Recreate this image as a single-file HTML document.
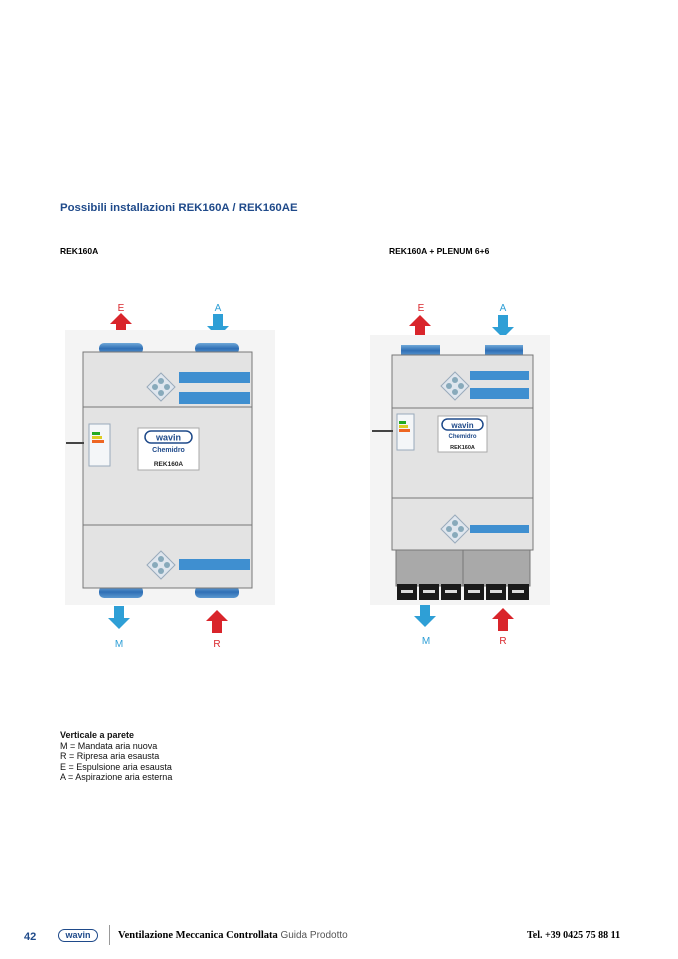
<!DOCTYPE html>
<html><head><meta charset="utf-8"><style>
body{margin:0;background:#fff;width:678px;height:959px;position:relative;overflow:hidden;font-family:"Liberation Sans",sans-serif}
.t{position:absolute;white-space:nowrap}
</style></head><body>
<div class="t" style="left:60px;top:202px;font-size:11.4px;font-weight:bold;color:#1f4a8a">Possibili installazioni REK160A / REK160AE</div>
<div class="t" style="left:60px;top:246px;font-size:8.5px;font-weight:bold">REK160A</div>
<div class="t" style="left:389px;top:246px;font-size:8.5px;font-weight:bold">REK160A + PLENUM 6+6</div>
<div class="t" style="left:60px;top:730px;font-size:9px;line-height:10.5px;color:#111"><b>Verticale a parete</b><br>M = Mandata aria nuova<br>R = Ripresa aria esausta<br>E = Espulsione aria esausta<br>A = Aspirazione aria esterna</div>
<div class="t" style="left:24px;top:931px;font-size:11px;font-weight:bold;color:#1f4a8a">42</div>
<div class="t" style="left:58px;top:929px;width:38px;height:11px;border:1.5px solid #1f4a8a;border-radius:7px;font-size:9px;font-weight:bold;color:#1f4a8a;text-align:center;line-height:11px">wavin</div>
<div style="position:absolute;left:109px;top:925px;width:1px;height:20px;background:#999"></div>
<div class="t" style="left:118px;top:930px;font-size:10.5px;font-family:'Liberation Serif',serif;font-weight:bold">Ventilazione Meccanica Controllata <span style="font-weight:normal;color:#555;font-family:'Liberation Sans',sans-serif;font-size:10px">Guida Prodotto</span></div>
<div class="t" style="left:527px;top:930px;font-size:10px;font-family:'Liberation Serif',serif;font-weight:bold">Tel. +39 0425 75 88 11</div>
<svg width="678" height="959" style="position:absolute;left:0;top:0">
<defs>
<linearGradient id="du" x1="0" y1="0" x2="0" y2="1"><stop offset="0" stop-color="#6fa8d8"/><stop offset=".5" stop-color="#2f6fb5"/><stop offset="1" stop-color="#5b98d0"/></linearGradient>
<g id="up"><path d="M-11 0 L0 -11 L11 0 L5 0 L5 12 L-5 12 L-5 0Z" fill="#d9252b"/></g>
<g id="dn"><path d="M-11 0 L0 11 L11 0 L5 0 L5 -12 L-5 -12 L-5 0Z" fill="#2e9fd6"/></g>
<g id="dia"><path d="M0 -14 L14 0 L0 14 L-14 0Z" fill="#dfe6ee" stroke="#9ab" stroke-width="1"/><circle cx="0" cy="-6" r="3" fill="#8ab"/><circle cx="0" cy="6" r="3" fill="#8ab"/><circle cx="-6" cy="0" r="3" fill="#8ab"/><circle cx="6" cy="0" r="3" fill="#8ab"/></g>
</defs>
<g font-family="Liberation Sans" font-size="10">
<text x="121" y="311" fill="#d9252b" text-anchor="middle">E</text>
<text x="218" y="311" fill="#2e9fd6" text-anchor="middle">A</text>
<text x="119" y="647" fill="#2e9fd6" text-anchor="middle">M</text>
<text x="217" y="647" fill="#d9252b" text-anchor="middle">R</text>
<text x="421" y="311" fill="#d9252b" text-anchor="middle">E</text>
<text x="503" y="311" fill="#2e9fd6" text-anchor="middle">A</text>
<text x="426" y="644" fill="#2e9fd6" text-anchor="middle">M</text>
<text x="503" y="644" fill="#d9252b" text-anchor="middle">R</text>
</g>
<use href="#up" x="121" y="324"/><use href="#dn" x="218" y="326"/>
<use href="#dn" x="119" y="618"/><use href="#up" x="217" y="621"/>
<use href="#up" x="420" y="326"/><use href="#dn" x="503" y="327"/>
<use href="#dn" x="425" y="616"/><use href="#up" x="503" y="619"/>
<rect x="65" y="330" width="210" height="275" fill="#f4f4f4"/>
<rect x="99" y="343" width="44" height="11" rx="5" fill="url(#du)"/>
<rect x="195" y="343" width="44" height="11" rx="5" fill="url(#du)"/>
<rect x="99" y="586" width="44" height="12" rx="5" fill="url(#du)"/>
<rect x="195" y="586" width="44" height="12" rx="5" fill="url(#du)"/>
<rect x="83" y="352" width="169" height="236" fill="#e3e3e3" stroke="#777" stroke-width="1"/>
<line x1="83" y1="407" x2="252" y2="407" stroke="#777"/>
<line x1="83" y1="525" x2="252" y2="525" stroke="#777"/>
<rect x="179" y="372" width="71" height="11" fill="#3f8fd0"/>
<rect x="179" y="392" width="71" height="12" fill="#3f8fd0"/>
<rect x="179" y="559" width="71" height="11" fill="#3f8fd0"/>
<use href="#dia" x="161" y="387"/><use href="#dia" x="161" y="565"/>
<rect x="89" y="424" width="21" height="42" fill="#f4f6f8" stroke="#9ab"/>
<rect x="92" y="432" width="8" height="3" fill="#2a2"/><rect x="92" y="436" width="10" height="3" fill="#dc2"/><rect x="92" y="440" width="12" height="3" fill="#e62"/>
<line x1="66" y1="443" x2="84" y2="443" stroke="#444" stroke-width="2"/>
<rect x="138" y="428" width="61" height="42" fill="#fff" stroke="#aaa"/>
<rect x="145" y="431" width="47" height="12" rx="6" fill="none" stroke="#1f4a8a" stroke-width="1.5"/>
<text x="168.5" y="440.5" font-family="Liberation Sans" font-weight="bold" font-size="9" fill="#1f4a8a" text-anchor="middle">wavin</text>
<text x="168.5" y="452" font-family="Liberation Sans" font-weight="bold" font-size="7" fill="#1f4a8a" text-anchor="middle">Chemidro</text>
<text x="168.5" y="466" font-family="Liberation Sans" font-weight="bold" font-size="6.5" fill="#222" text-anchor="middle">REK160A</text>
<rect x="370" y="335" width="180" height="270" fill="#f4f4f4"/>
<rect x="401" y="345" width="39" height="11" fill="url(#du)"/>
<rect x="485" y="345" width="38" height="11" fill="url(#du)"/>
<rect x="392" y="355" width="141" height="195" fill="#e3e3e3" stroke="#777"/>
<line x1="392" y1="408" x2="533" y2="408" stroke="#777"/>
<line x1="392" y1="498" x2="533" y2="498" stroke="#777"/>
<rect x="470" y="371" width="59" height="9" fill="#3f8fd0"/>
<rect x="470" y="388" width="59" height="11" fill="#3f8fd0"/>
<rect x="470" y="525" width="59" height="8" fill="#3f8fd0"/>
<use href="#dia" x="455" y="386"/><use href="#dia" x="455" y="529"/>
<rect x="397" y="414" width="17" height="36" fill="#f4f6f8" stroke="#9ab"/>
<rect x="399" y="421" width="7" height="3" fill="#2a2"/><rect x="399" y="425" width="9" height="3" fill="#dc2"/><rect x="399" y="429" width="11" height="3" fill="#e62"/>
<line x1="372" y1="431" x2="393" y2="431" stroke="#444" stroke-width="2"/>
<rect x="438" y="416" width="49" height="36" fill="#fff" stroke="#aaa"/>
<rect x="442" y="419" width="41" height="11" rx="5.5" fill="none" stroke="#1f4a8a" stroke-width="1.5"/>
<text x="462.5" y="428" font-family="Liberation Sans" font-weight="bold" font-size="8" fill="#1f4a8a" text-anchor="middle">wavin</text>
<text x="462.5" y="438" font-family="Liberation Sans" font-weight="bold" font-size="6" fill="#1f4a8a" text-anchor="middle">Chemidro</text>
<text x="462.5" y="449" font-family="Liberation Sans" font-weight="bold" font-size="5.5" fill="#222" text-anchor="middle">REK160A</text>
<rect x="396" y="550" width="134" height="36" fill="#a9a9a9" stroke="#777"/>
<line x1="463" y1="550" x2="463" y2="586" stroke="#777"/>
<g fill="#1a1a1a">
<rect x="397" y="584" width="20" height="16"/><rect x="419" y="584" width="20" height="16"/><rect x="441" y="584" width="20" height="16"/>
<rect x="464" y="584" width="20" height="16"/><rect x="486" y="584" width="20" height="16"/><rect x="508" y="584" width="21" height="16"/>
</g>
<g fill="#ddd"><rect x="401" y="590" width="12" height="3"/><rect x="423" y="590" width="12" height="3"/><rect x="445" y="590" width="12" height="3"/><rect x="468" y="590" width="12" height="3"/><rect x="490" y="590" width="12" height="3"/><rect x="512" y="590" width="12" height="3"/></g>
</svg>
</body></html>
